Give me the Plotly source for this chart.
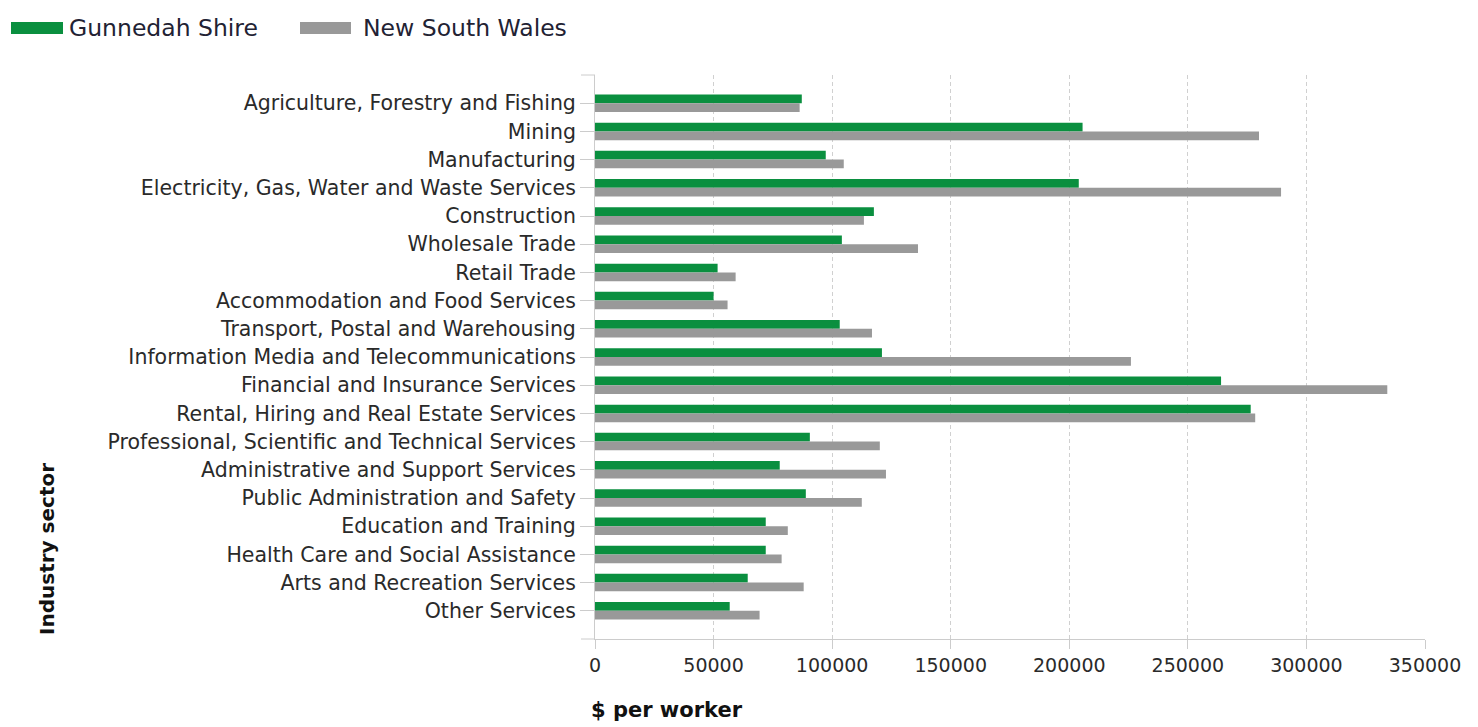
import plotly.graph_objects as go

categories = [
    "Agriculture, Forestry and Fishing",
    "Mining",
    "Manufacturing",
    "Electricity, Gas, Water and Waste Services",
    "Construction",
    "Wholesale Trade",
    "Retail Trade",
    "Accommodation and Food Services",
    "Transport, Postal and Warehousing",
    "Information Media and Telecommunications",
    "Financial and Insurance Services",
    "Rental, Hiring and Real Estate Services",
    "Professional, Scientific and Technical Services",
    "Administrative and Support Services",
    "Public Administration and Safety",
    "Education and Training",
    "Health Care and Social Assistance",
    "Arts and Recreation Services",
    "Other Services",
]

gunnedah = [87200, 205600, 97300, 204000, 117600, 104100, 51700, 50000, 103200,
            121000, 264000, 276500, 90600, 77900, 88900, 72000, 72000, 64400, 56800]
nsw = [86300, 280000, 104900, 289300, 113400, 136200, 59300, 55900, 116800,
       226000, 334100, 278400, 120100, 122700, 112500, 81300, 78700, 88000, 69400]

series_names = ["Gunnedah Shire", "New South Wales"]
series_colors = ["#0a8f3f", "#999999"]
x_ticks = [0, 50000, 100000, 150000, 200000, 250000, 300000, 350000]

# page body has an 8px default margin; compensate so the chart lands where the reference has it
OFF = 8
W, H = 1478 - OFF, 727 - OFF
L, R, T, B = 595 - OFF, 53, 75 - OFF, 88
PW, PH = W - L - R, H - T - B


def pxx(x):
    return (x - OFF - L) / PW


def pxy(y):
    return (H - B - (y - OFF)) / PH


FONT = "DejaVu Sans, Verdana, Arial, sans-serif"

fig = go.Figure()
for name, vals, col in zip(series_names, [gunnedah, nsw], series_colors):
    fig.add_trace(go.Bar(
        y=categories, x=vals, name=name, orientation="h",
        marker=dict(color=col, line=dict(width=0)),
        showlegend=False,
    ))

fig.update_layout(
    width=W, height=H,
    margin=dict(l=L, r=R, t=T, b=B, autoexpand=False),
    paper_bgcolor="white", plot_bgcolor="white",
    barmode="group", bargap=0.38, bargroupgap=0,
    font=dict(family=FONT, color="#2a2a2a"),
    xaxis=dict(
        range=[0, 350000], tickvals=x_ticks, ticktext=[str(v) for v in x_ticks],
        showgrid=True, gridcolor="#d0d0d0", griddash="4px,3px", gridwidth=1,
        showline=True, linecolor="#cccccc", linewidth=1,
        ticks="outside", ticklen=9, tickcolor="#cccccc",
        tickfont=dict(size=19, color="#2a2a2a", family=FONT),
        zeroline=False, fixedrange=True,
    ),
    yaxis=dict(
        type="category", categoryorder="array", categoryarray=categories,
        range=[19, -1],
        showgrid=False, showline=True, linecolor="#cccccc", linewidth=1,
        ticks="outside", ticklen=14, tickcolor="#cccccc",
        tickfont=dict(size=20.5, color="#2a2a2a", family=FONT),
        zeroline=False, fixedrange=True,
    ),
)

shapes = []
# end ticks on the category axis
for yy in (75, 639):
    shapes.append(dict(type="line", xref="paper", yref="paper",
                       x0=pxx(581), x1=pxx(595), y0=pxy(yy), y1=pxy(yy),
                       line=dict(color="#cccccc", width=1)))
# custom legend swatches
swatches = [(11, 63), (300, 351)]
for (x0, x1), col in zip(swatches, series_colors):
    shapes.append(dict(type="rect", xref="paper", yref="paper",
                       x0=pxx(x0), x1=pxx(x1), y0=pxy(34), y1=pxy(22),
                       fillcolor=col, line=dict(width=0)))
fig.update_layout(shapes=shapes)

annotations = []
for name, xs in zip(series_names, [67, 361]):
    annotations.append(dict(text=name, xref="paper", yref="paper",
                            x=pxx(xs), y=pxy(28), xanchor="left", yanchor="middle",
                            showarrow=False,
                            font=dict(size=23.5, color="#222233", family=FONT)))
annotations.append(dict(text="<b>$ per worker</b>", xref="paper", yref="paper",
                        x=pxx(589), y=pxy(710), xanchor="left", yanchor="middle",
                        showarrow=False,
                        font=dict(size=21, color="#111111", family=FONT)))
annotations.append(dict(text="<b>Industry sector</b>", xref="paper", yref="paper",
                        x=pxx(47), y=pxy(549), xanchor="center", yanchor="middle",
                        textangle=-90, showarrow=False,
                        font=dict(size=20, color="#111111", family=FONT)))
fig.update_layout(annotations=annotations)

fig.write_html("out.html")
